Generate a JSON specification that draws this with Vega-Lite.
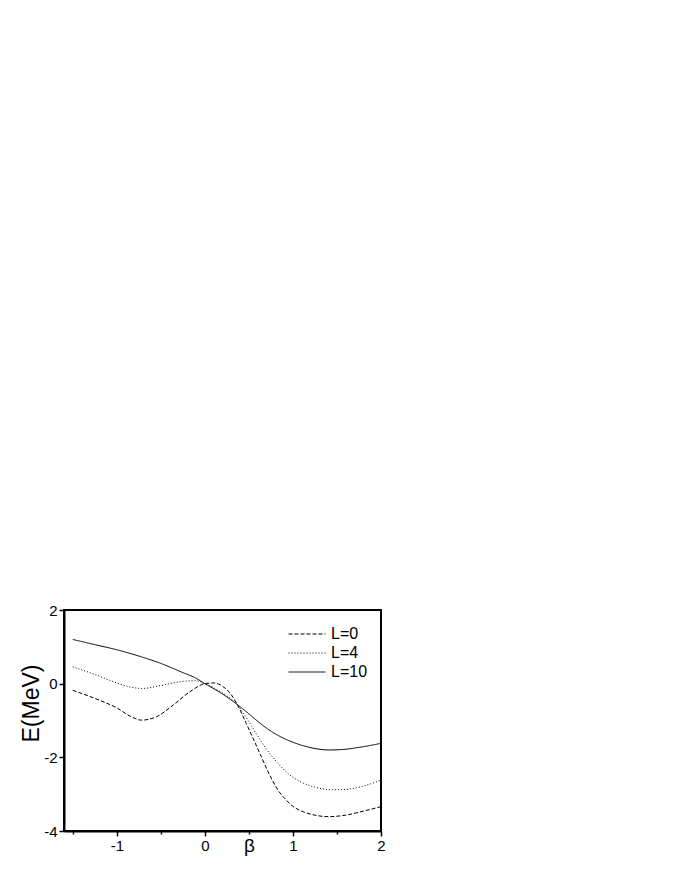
{
  "$schema": "https://vega.github.io/schema/vega-lite/v6.json",
  "width": 317,
  "height": 221,
  "autosize": "none",
  "padding": {"left": 64, "top": 610, "right": 299, "bottom": 49},
  "background": "white",
  "config": {"view": {"stroke": "black", "strokeWidth": 2}, "font": "Liberation Sans"},
  "data": {"values": [
    {"b": -1.5, "E": 1.20, "L": "L=10"},
    {"b": -1.25, "E": 1.06, "L": "L=10"},
    {"b": -1.0, "E": 0.92, "L": "L=10"},
    {"b": -0.75, "E": 0.75, "L": "L=10"},
    {"b": -0.5, "E": 0.55, "L": "L=10"},
    {"b": -0.25, "E": 0.30, "L": "L=10"},
    {"b": -0.11, "E": 0.16, "L": "L=10"},
    {"b": 0, "E": 0, "L": "L=10"},
    {"b": 0.2, "E": -0.28, "L": "L=10"},
    {"b": 0.375, "E": -0.58, "L": "L=10"},
    {"b": 0.5, "E": -0.82, "L": "L=10"},
    {"b": 0.62, "E": -1.06, "L": "L=10"},
    {"b": 0.75, "E": -1.29, "L": "L=10"},
    {"b": 0.875, "E": -1.46, "L": "L=10"},
    {"b": 1.0, "E": -1.59, "L": "L=10"},
    {"b": 1.125, "E": -1.69, "L": "L=10"},
    {"b": 1.25, "E": -1.76, "L": "L=10"},
    {"b": 1.4, "E": -1.80, "L": "L=10"},
    {"b": 1.55, "E": -1.79, "L": "L=10"},
    {"b": 1.75, "E": -1.73, "L": "L=10"},
    {"b": 2.0, "E": -1.62, "L": "L=10"},

    {"b": -1.5, "E": 0.46, "L": "L=4"},
    {"b": -1.25, "E": 0.25, "L": "L=4"},
    {"b": -1.0, "E": 0.02, "L": "L=4"},
    {"b": -0.85, "E": -0.09, "L": "L=4"},
    {"b": -0.71, "E": -0.13, "L": "L=4"},
    {"b": -0.5, "E": -0.05, "L": "L=4"},
    {"b": -0.26, "E": 0.06, "L": "L=4"},
    {"b": -0.11, "E": 0.08, "L": "L=4"},
    {"b": 0, "E": 0, "L": "L=4"},
    {"b": 0.15, "E": -0.18, "L": "L=4"},
    {"b": 0.25, "E": -0.33, "L": "L=4"},
    {"b": 0.375, "E": -0.6, "L": "L=4"},
    {"b": 0.5, "E": -1.03, "L": "L=4"},
    {"b": 0.6, "E": -1.42, "L": "L=4"},
    {"b": 0.7, "E": -1.78, "L": "L=4"},
    {"b": 0.8, "E": -2.08, "L": "L=4"},
    {"b": 0.94, "E": -2.43, "L": "L=4"},
    {"b": 1.1, "E": -2.68, "L": "L=4"},
    {"b": 1.25, "E": -2.81, "L": "L=4"},
    {"b": 1.45, "E": -2.88, "L": "L=4"},
    {"b": 1.6, "E": -2.87, "L": "L=4"},
    {"b": 1.8, "E": -2.78, "L": "L=4"},
    {"b": 2.0, "E": -2.62, "L": "L=4"},

    {"b": -1.5, "E": -0.18, "L": "L=0"},
    {"b": -1.25, "E": -0.40, "L": "L=0"},
    {"b": -1.0, "E": -0.66, "L": "L=0"},
    {"b": -0.85, "E": -0.88, "L": "L=0"},
    {"b": -0.72, "E": -0.99, "L": "L=0"},
    {"b": -0.55, "E": -0.90, "L": "L=0"},
    {"b": -0.36, "E": -0.58, "L": "L=0"},
    {"b": -0.17, "E": -0.22, "L": "L=0"},
    {"b": 0, "E": 0, "L": "L=0"},
    {"b": 0.1, "E": 0.02, "L": "L=0"},
    {"b": 0.2, "E": -0.07, "L": "L=0"},
    {"b": 0.3, "E": -0.3, "L": "L=0"},
    {"b": 0.375, "E": -0.6, "L": "L=0"},
    {"b": 0.47, "E": -1.08, "L": "L=0"},
    {"b": 0.55, "E": -1.5, "L": "L=0"},
    {"b": 0.64, "E": -1.98, "L": "L=0"},
    {"b": 0.73, "E": -2.45, "L": "L=0"},
    {"b": 0.83, "E": -2.89, "L": "L=0"},
    {"b": 0.92, "E": -3.15, "L": "L=0"},
    {"b": 1.0, "E": -3.33, "L": "L=0"},
    {"b": 1.12, "E": -3.48, "L": "L=0"},
    {"b": 1.25, "E": -3.57, "L": "L=0"},
    {"b": 1.4, "E": -3.61, "L": "L=0"},
    {"b": 1.6, "E": -3.57, "L": "L=0"},
    {"b": 1.8, "E": -3.46, "L": "L=0"},
    {"b": 2.0, "E": -3.34, "L": "L=0"}
  ]},
  "mark": {"type": "line", "interpolate": "monotone", "strokeWidth": 1, "color": "black", "clip": true},
  "encoding": {
    "x": {
      "field": "b", "type": "quantitative",
      "scale": {"domain": [-1.6, 2], "nice": false, "zero": false},
      "axis": {
        "values": [-1.5, -1, -0.5, 0, 0.5, 1, 1.5, 2],
        "labelExpr": "datum.value == 0.5 ? 'β' : (datum.value % 1 == 0 ? '' + datum.value : '')",
        "tickSize": {"condition": {"test": "datum.value % 1 != 0", "value": 3}, "value": 5},
        "labelFontSize": {"condition": {"test": "datum.value == 0.5", "value": 19}, "value": 15},
        "title": null,
        "grid": false,
        "domainWidth": 2,
        "domainColor": "black",
        "tickColor": "black",
        "tickWidth": 1.5,
        "labelColor": "black",
        "labelPadding": 2,
        "labelFlush": false,
        "labelOverlap": false
      }
    },
    "y": {
      "field": "E", "type": "quantitative",
      "scale": {"domain": [-4, 2], "nice": false, "zero": false},
      "axis": {
        "values": [-4, -2, 0, 2],
        "labelExpr": "'' + datum.value",
        "tickSize": 5,
        "title": "E(MeV)",
        "titleFontSize": 23,
        "titleFontWeight": "normal",
        "titleColor": "black",
        "titleX": -33,
        "titleY": 93,
        "titleAlign": "center",
        "titleBaseline": "middle",
        "titleAngle": -90,
        "grid": false,
        "domainWidth": 2,
        "domainColor": "black",
        "tickColor": "black",
        "tickWidth": 1.5,
        "labelColor": "black",
        "labelFontSize": 15,
        "labelPadding": 2,
        "labelFlush": false,
        "labelOverlap": false
      }
    },
    "strokeDash": {
      "field": "L", "type": "nominal",
      "scale": {"domain": ["L=0", "L=4", "L=10"], "range": [[4, 2], [1, 2], [1, 0]]},
      "legend": {
        "orient": "none",
        "legendX": 224,
        "legendY": 16,
        "title": null,
        "symbolType": "stroke",
        "symbolSize": 1369,
        "symbolStrokeWidth": 1,
        "symbolStrokeColor": "black",
        "clipHeight": 16,
        "labelFontSize": 16,
        "labelColor": "black",
        "labelOffset": 5,
        "rowPadding": 3
      }
    }
  }
}
